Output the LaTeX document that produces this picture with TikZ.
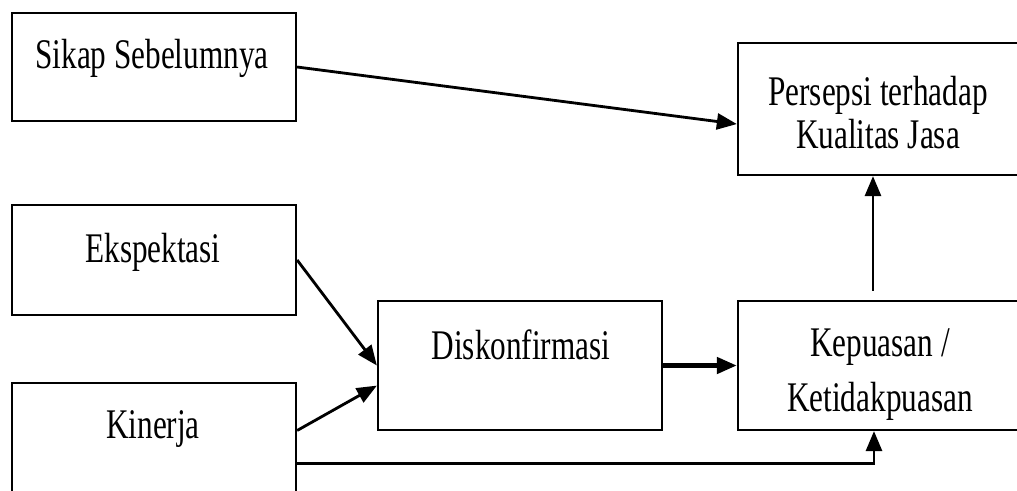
\documentclass[tikz,border=0pt]{standalone}
\usepackage{fontspec}
\setmainfont[FakeStretch=0.74]{Liberation Serif}
\usetikzlibrary{arrows.meta}
\newcommand{\drawarrow}{\draw[line width=0.8pt,-{Triangle[length=0.2cm,width=0.16cm]}]}
\tikzset{
  box/.style={draw,line width=0.6pt,minimum width=2.84cm,minimum height=1.1cm,inner sep=0pt},
  lbl/.style={font=\fontsize{12}{14}\selectfont,anchor=base,align=center,inner sep=0pt}
}

\begin{document}
\begin{tikzpicture}[x=0.01cm,y=-0.01cm]
\useasboundingbox (0,0) rectangle (1017,490);
\clip (0,0) rectangle (1017,490);
% boxes
\node[box,minimum height=1.08cm] (sikap) at (154,67) {};
\node[box,minimum height=1.32cm] (persepsi) at (880,109) {};
\node[box] (ekspektasi) at (154,260) {};
\node[box] (kinerja) at (154,438) {};
\node[box,minimum height=1.29cm] (diskonfirmasi) at (520,365.5) {};
\node[box,minimum height=1.29cm] (kepuasan) at (880,365.5) {};
% texts (base = last line)
\node[lbl] (sikap-t) at (152,68) {Sikap Sebelumnya};
\node[lbl] (ekspektasi-t) at (153,262) {Ekspektasi};
\node[lbl] (kinerja-t) at (153,438) {Kinerja};
\node[lbl] (diskonfirmasi-t) at (521,359) {Diskonfirmasi};
\node[lbl,font=\fontsize{12}{12.2}\selectfont] (persepsi-t) at (878,148) {Persepsi terhadap\\Kualitas Jasa};
\node[lbl,font=\fontsize{12}{15.4}\selectfont] (kepuasan-t) at (880,411) {Kepuasan /\\Ketidakpuasan};
% arrows
\drawarrow (sikap.east) -- (persepsi.186);
\drawarrow (ekspektasi.east) -- (diskonfirmasi.west);
\drawarrow (kinerja.3) -- (diskonfirmasi.188);
\drawarrow[line width=1.3pt] (diskonfirmasi) -- (kepuasan);
\drawarrow[shorten <=0.09cm] ([xshift=-0.07cm]kepuasan.north) -- ([xshift=-0.07cm]persepsi.south);
\drawarrow (kinerja.350) -| ([xshift=-0.06cm]kepuasan.south);
\end{tikzpicture}
\end{document}
